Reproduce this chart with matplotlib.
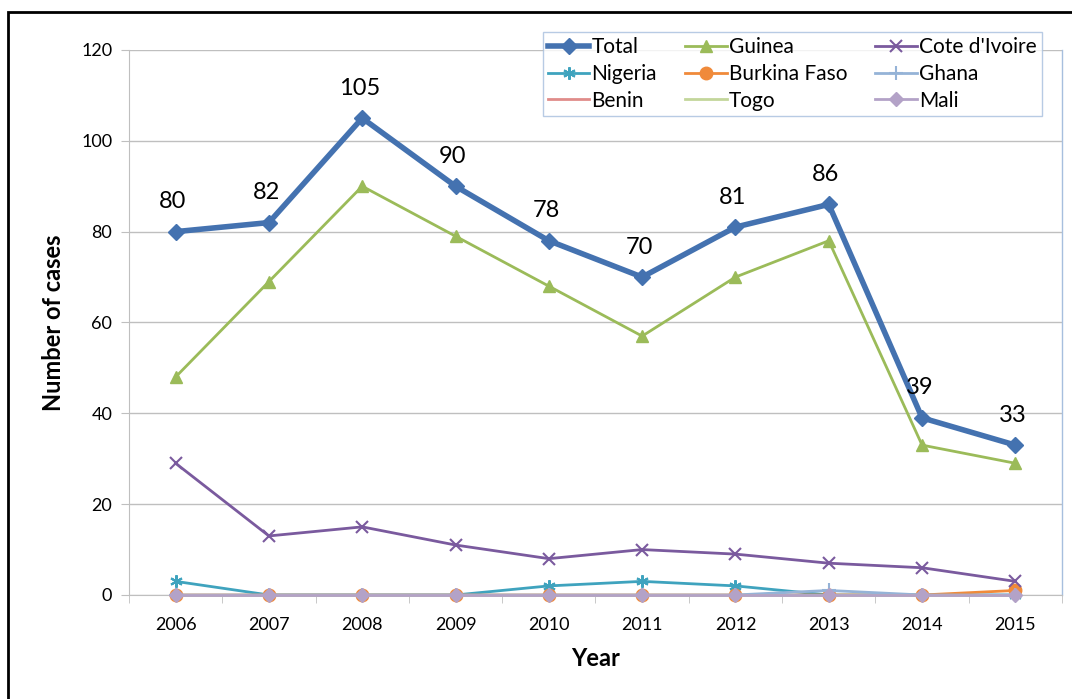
import numpy as np
import matplotlib.pyplot as plt
from matplotlib.patches import Rectangle

plt.rcParams['font.family'] = ['Lato', 'DejaVu Sans']

years = ["2006", "2007", "2008", "2009", "2010", "2011", "2012", "2013", "2014", "2015"]
total = [80, 82, 105, 90, 78, 70, 81, 86, 39, 33]
guinea = [48, 69, 90, 79, 68, 57, 70, 78, 33, 29]
cote = [29, 13, 15, 11, 8, 10, 9, 7, 6, 3]
nigeria = [3, 0, 0, 0, 2, 3, 2, 0, 0, 0]
burkina = [0, 0, 0, 0, 0, 0, 0, 0, 0, 1]
ghana = [0, 0, 0, 0, 0, 0, 0, 1, 0, 0]
benin = [0] * 10
togo = [0] * 10
mali = [0] * 10

x = np.arange(len(years))

fig = plt.figure(figsize=(10.72, 6.99), dpi=100)
ax = fig.add_axes([0.1203, 0.1488, 0.8704, 0.7797])

h = {}
h["Total"], = ax.plot(x, total, color="#4472B0", lw=4, marker="D", ms=8, zorder=10)
h["Guinea"], = ax.plot(x, guinea, color="#9BBB59", lw=2, marker="^", ms=8, zorder=9)
h["Cote d'Ivoire"], = ax.plot(x, cote, color="#7A5A9E", lw=2, marker="x", ms=8, mew=1.5, zorder=8)
h["Nigeria"], = ax.plot(x, nigeria, color="#3FA3BE", lw=2, marker=(6, 2, 0), ms=9, mew=1.5,
                        zorder=6, clip_on=False)
h["Burkina Faso"], = ax.plot(x, burkina, color="#F08A3A", lw=2, marker="o", ms=9, zorder=6.2,
                             clip_on=False)
h["Ghana"], = ax.plot(x, ghana, color="#95B3D7", lw=2, marker="+", ms=10, mew=1.5, zorder=6.5,
                      clip_on=False)
h["Benin"], = ax.plot(x, benin, color="#E08C8A", lw=2, zorder=6.6, clip_on=False)
h["Togo"], = ax.plot(x, togo, color="#C3D69B", lw=2, zorder=6.7, clip_on=False)
h["Mali"], = ax.plot(x, mali, color="#B3A2C7", lw=2, marker="D", ms=7, zorder=6.8, clip_on=False)

for xi, v in zip(x, total):
    ax.annotate(str(v), (xi, v), xytext=(-2, 14), textcoords="offset points",
                ha="center", va="bottom", fontsize=17, zorder=12)

ax.set_xlim(-0.5, 9.5)
ax.set_ylim(0, 120)
ax.set_yticks(range(0, 121, 20))
ax.set_xticks(x)
ax.set_xticklabels(years)
ax.set_xticks(np.arange(-0.5, 10, 1), minor=True)
ax.tick_params(axis="x", which="major", length=0, pad=16, labelsize=13)
ax.tick_params(axis="x", which="minor", length=6, color="#BFBFBF", direction="out")
ax.tick_params(axis="y", length=6, color="#BFBFBF", labelsize=13, pad=6)
ax.grid(axis="y", color="#BFBFBF", lw=1)
ax.set_axisbelow(True)
for s in ["top", "right"]:
    ax.spines[s].set_visible(False)
ax.spines["left"].set_color("#BFBFBF")
ax.spines["bottom"].set_color("#BFBFBF")
ax.plot([1, 1], [0, 1], transform=ax.transAxes, color="#A7BFDE", lw=1, clip_on=False)

ax.set_ylabel("Number of cases", fontsize=17, fontweight="bold", labelpad=12)
ax.set_xlabel("Year", fontsize=17, fontweight="bold", labelpad=10)

order = ["Total", "Nigeria", "Benin", "Guinea", "Burkina Faso", "Togo",
         "Cote d'Ivoire", "Ghana", "Mali"]
leg = ax.legend([h[k] for k in order], order, ncol=3, loc="upper right",
                bbox_to_anchor=(0.9786, 1.033), fontsize=15, frameon=True,
                fancybox=False, edgecolor="#A7BFDE", borderpad=0.25,
                labelspacing=0.32, handlelength=2.0, handletextpad=0.1,
                columnspacing=1.35, borderaxespad=0)
leg.get_frame().set_linewidth(1)
leg.set_zorder(20)

fig.patches.append(Rectangle((8 / 1072, -0.01), 1.02, 1 - 12 / 699 + 0.01,
                             transform=fig.transFigure, fill=False,
                             edgecolor="black", lw=2))

fig.savefig("out.png", dpi=100)
